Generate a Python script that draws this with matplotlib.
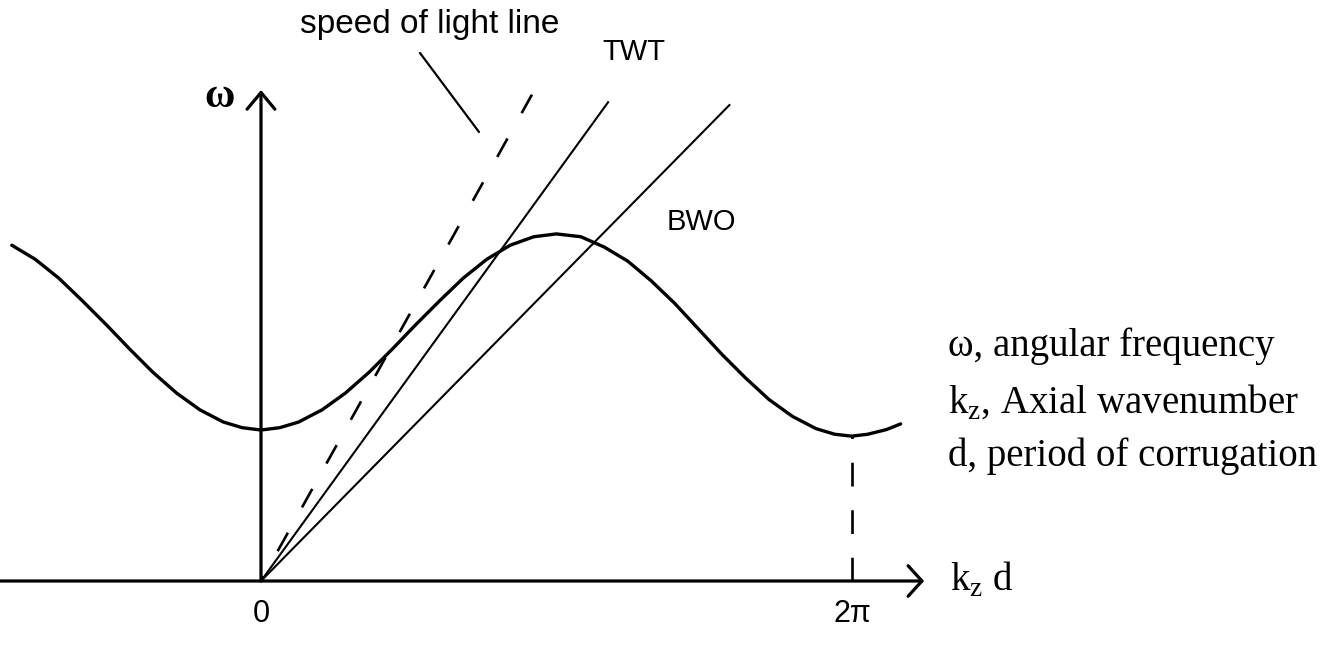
import matplotlib
matplotlib.use("Agg")
import matplotlib.pyplot as plt

W, H = 1330, 646

# dispersion curve of the corrugated guide, omega vs k_z d (same units on both axes)
KD = [-2.65, -2.4, -2.15, -1.9, -1.65, -1.4, -1.15, -0.9, -0.65, -0.4, -0.2, 0.0,
      0.2, 0.4, 0.65, 0.9, 1.15, 1.4, 1.65, 1.9, 2.15, 2.4, 2.65, 2.9, 3.14,
      3.4, 3.65, 3.9, 4.15, 4.4, 4.65, 4.9, 5.15, 5.4, 5.65, 5.9, 6.1, 6.28,
      6.45, 6.65, 6.8]
OMEGA = [3.57, 3.42, 3.22, 2.98, 2.73, 2.47, 2.22, 2.00, 1.82, 1.69, 1.63, 1.605,
         1.63, 1.69, 1.82, 2.00, 2.22, 2.47, 2.73, 2.98, 3.22, 3.42, 3.57, 3.66, 3.69,
         3.66, 3.55, 3.40, 3.19, 2.95, 2.68, 2.41, 2.16, 1.93, 1.75, 1.62, 1.56, 1.54,
         1.56, 1.61, 1.67]

# beam lines through the origin, given by their far end point
BEAM_NAMES = ["light", "TWT", "BWO"]
BEAM_KD_END = [2.88, 3.69, 4.98]
BEAM_OMEGA_END = [5.17, 5.09, 5.06]

TICK_POS = [0.0, 6.283]
TICK_LABELS = ["0", "2π"]

LEGEND_LINES = ["ω, angular frequency", "k$_{\\mathregular{z}}$, Axial wavenumber",
                "d, period of corrugation"]

# axis extents
KD_LEFT, KD_ARROW = -2.78, 7.05
OMEGA_ARROW = 5.22

SCALE = 94.06          # pixels per unit
X0, Y0 = 261, 581      # pixel position of the origin


def fig_xy(px, py):
    return px / W, 1 - py / H


fig = plt.figure(figsize=(W / 100, H / 100), dpi=100)
ax = fig.add_axes([0, 0, 1, 1])
ax.set_xlim(-X0 / SCALE, (W - X0) / SCALE)
ax.set_ylim(-(H - Y0) / SCALE, Y0 / SCALE)
ax.axis("off")

# axes with arrow heads
ax.annotate("", xy=(KD_ARROW, 0), xytext=(KD_LEFT, 0),
            arrowprops=dict(arrowstyle="->,head_length=1.0,head_width=1.1",
                            lw=2.3, color="black", shrinkA=0, shrinkB=0,
                            mutation_scale=10))
ax.annotate("", xy=(0, OMEGA_ARROW), xytext=(0, 0),
            arrowprops=dict(arrowstyle="->,head_length=1.2,head_width=1.0",
                            lw=2.3, color="black", shrinkA=0, shrinkB=0,
                            mutation_scale=10))

# dispersion curve
ax.plot(KD, OMEGA, color="black", lw=2.4, solid_capstyle="round",
        solid_joinstyle="round")

# speed of light, TWT and BWO lines (drawn from the far end so dashes start there)
for name, kx, wy in zip(BEAM_NAMES, BEAM_KD_END, BEAM_OMEGA_END):
    if name == "light":
        ax.plot([kx, 0], [wy, 0], color="black", lw=1.9, dashes=(8, 11))
    else:
        ax.plot([0, kx], [0, wy], color="black", lw=1.5)

# dashed drop from the curve minimum at 2pi
i_min = OMEGA.index(min(OMEGA[len(OMEGA) // 2:]))
ax.plot([TICK_POS[1], TICK_POS[1]], [0, OMEGA[i_min]], color="black", lw=1.9,
        dashes=(9, 9))

sans = "Liberation Sans"
serif = "Liberation Serif"

for pos, lab in zip(TICK_POS, TICK_LABELS):
    ax.text(pos, -33 / SCALE, lab, ha="center", va="center", fontsize=22,
            family=sans)

fig.text(*fig_xy(220, 97), "ω", ha="center", va="center", fontsize=30,
         family=serif, fontweight="bold")

fig.text(*fig_xy(300, 24), "speed of light line", ha="left", va="center",
         fontsize=24, family=sans)
ax.annotate("", xy=fig_xy(479, 132), xytext=fig_xy(420, 53),
            xycoords="figure fraction", textcoords="figure fraction",
            arrowprops=dict(arrowstyle="-", lw=1.6, color="black",
                            shrinkA=0, shrinkB=0))
fig.text(*fig_xy(602, 52), "TWT", ha="left", va="center", fontsize=21, family=sans)
fig.text(*fig_xy(667, 222), "BWO", ha="left", va="center", fontsize=21, family=sans)

fig.text(*fig_xy(950, 580), "k$_{\\mathregular{z}}$ d", ha="left", va="center",
         fontsize=28, family=serif)
for yy, line in zip([346, 402, 456], LEGEND_LINES):
    fig.text(*fig_xy(948, yy), line, ha="left", va="center", fontsize=28,
             family=serif)

fig.savefig("out.png", dpi=100, facecolor="white")
